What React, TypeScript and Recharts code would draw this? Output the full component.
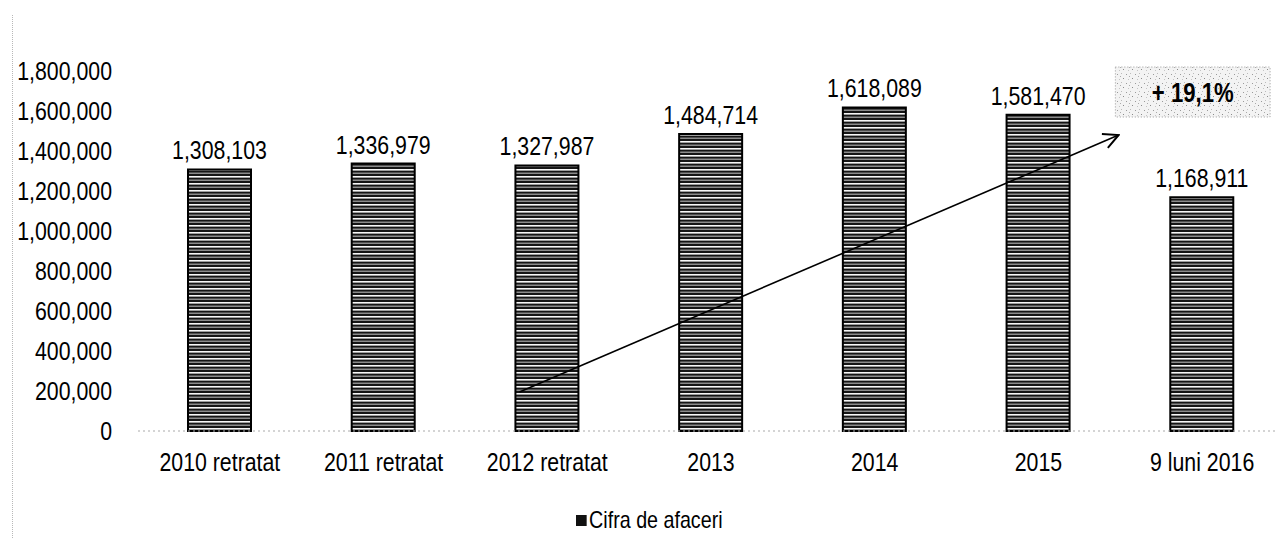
import { Bar, BarChart, LabelList, ReferenceArea, ReferenceLine, XAxis, YAxis } from "recharts";

const categories = ["2010 retratat", "2011 retratat", "2012 retratat", "2013", "2014", "2015", "9 luni 2016"];
const cifraDeAfaceri = [1308103, 1336979, 1327987, 1484714, 1618089, 1581470, 1168911];
const yTicks = [0, 200000, 400000, 600000, 800000, 1000000, 1200000, 1400000, 1600000, 1800000];
const growthLabel = "+ 19,1%";
const legendLabel = "Cifra de afaceri";

// idx puts each category at the centre of its band on a hidden numeric axis (used for the arrow / box)
const data = categories.map((name, i) => ({ name, value: cifraDeAfaceri[i], idx: i + 0.5 }));

const FONT = '"Liberation Sans", Arial, sans-serif';
const SQUEEZE = 0.82; // fake Arial Narrow
const fmt = (v: number) => v.toLocaleString("en-US");

const Narrow = ({ x, y, anchor = "middle", dy, size = 26, weight = "normal", children }: any) => (
  <text
    transform={`translate(${x} ${y}) scale(${SQUEEZE} 1)`}
    textAnchor={anchor}
    dy={dy}
    fill="#000"
    fontSize={size}
    fontWeight={weight}
    fontFamily={FONT}
  >
    {children}
  </text>
);

const YTick = ({ x, y, payload }: any) => (
  <Narrow x={x} y={y} anchor="end" dy="0.355em">{fmt(payload.value)}</Narrow>
);

const XTick = ({ x, y, payload }: any) => (
  <Narrow x={x} y={y} anchor="middle" dy="0.71em">{payload.value}</Narrow>
);

const ValueLabel = ({ x, y, width, value }: any) => (
  <Narrow x={x + width / 2} y={y - 10} anchor="middle">{fmt(Number(value))}</Narrow>
);

const BoxLabel = ({ viewBox }: any) => (
  <Narrow x={viewBox.x + viewBox.width / 2} y={viewBox.y + viewBox.height / 2} anchor="middle" dy="0.36em" size={27} weight="bold">
    {growthLabel}
  </Narrow>
);

const ArrowLine = (props: any) => {
  const { x1, y1, x2, y2 } = props;
  return <line x1={x1} y1={y1} x2={x2} y2={y2} stroke="#000" strokeWidth={1.6} markerEnd="url(#openArrow)" />;
};

export default function App() {
  return (
    <div style={{ position: "absolute", left: 0, top: 0, width: 1275, height: 538, overflow: "hidden", background: "#fff", fontFamily: FONT }}>
      <div style={{ position: "absolute", left: 12, top: 15, height: 523, borderLeft: "1px dotted #b8b8b8" }} />
      <BarChart width={1300} height={538} data={data} margin={{ top: 71, right: 16, bottom: 77, left: 8 }} barSize={63}>
        <defs>
          <pattern id="stripes" width="8" height="7" patternUnits="userSpaceOnUse">
            <rect width="8" height="7" fill="#151515" />
            <rect y="1" width="8" height="1.6" fill="#f7f7f7" />
            <rect y="4.6" width="8" height="1.2" fill="#a8a8a8" />
          </pattern>
          <pattern id="speckle" width="9" height="9" patternUnits="userSpaceOnUse">
            <rect width="9" height="9" fill="#f3f3f3" />
            <rect x="1" y="2" width="1" height="1" fill="#9a9a9a" />
            <rect x="5" y="1" width="1" height="1" fill="#bbb" />
            <rect x="7" y="6" width="1" height="1" fill="#8a8a8a" />
            <rect x="3" y="7" width="1" height="1" fill="#c4c4c4" />
            <rect x="4" y="4" width="1" height="1" fill="#aaa" />
          </pattern>
          <marker id="openArrow" viewBox="0 0 12 12" refX="11" refY="6" markerWidth="18" markerHeight="18" markerUnits="userSpaceOnUse" orient="auto">
            <path d="M1,1 L11,6 L1,11" fill="none" stroke="#000" strokeWidth={1.3} />
          </marker>
        </defs>
        <XAxis
          dataKey="name"
          tickLine={false}
          axisLine={{ stroke: "#aaa", strokeDasharray: "2 3" }}
          tickMargin={16}
          interval={0}
          tick={<XTick />}
        />
        <XAxis xAxisId="num" dataKey="idx" type="number" domain={[0, 7]} allowDataOverflow hide />
        <YAxis
          width={130}
          domain={[0, 1800000]}
          ticks={yTicks}
          tickLine={false}
          axisLine={false}
          tickMargin={20}
          tick={<YTick />}
        />
        <Bar dataKey="value" fill="url(#stripes)" stroke="#000" strokeWidth={2} isAnimationActive={false}>
          <LabelList dataKey="value" content={<ValueLabel />} />
        </Bar>
        <ReferenceLine
          xAxisId="num"
          segment={[{ x: 2.33, y: 195000 }, { x: 5.99, y: 1480000 }]}
          ifOverflow="visible"
          shape={ArrowLine}
        />
        <ReferenceArea
          xAxisId="num"
          x1={5.97}
          x2={6.915}
          y1={1570000}
          y2={1820000}
          ifOverflow="visible"
          fill="url(#speckle)"
          fillOpacity={1}
          stroke="#999"
          strokeDasharray="1 2"
          label={<BoxLabel />}
        />
      </BarChart>
      <div style={{ position: "absolute", left: 576, top: 507, display: "flex", alignItems: "center", fontSize: 24, lineHeight: "26px", color: "#000", transform: `scaleX(${SQUEEZE})`, transformOrigin: "left center" }}>
        <span style={{ display: "inline-block", width: 13, height: 11, background: "#111", marginRight: 3 }} />
        <span>{legendLabel}</span>
      </div>
    </div>
  );
}
